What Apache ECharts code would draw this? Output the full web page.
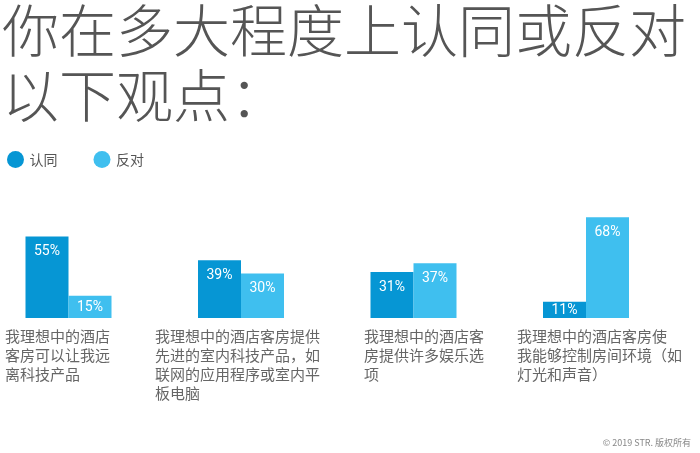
<!DOCTYPE html>
<html>
<head>
<meta charset="utf-8">
<script src="https://cdn.jsdelivr.net/npm/echarts@6/dist/echarts.min.js"></script>
<style>
  html, body { margin: 0; padding: 0; background: #fff; }
  #chart { width: 700px; height: 453px; }
</style>
</head>
<body>
<div id="chart"></div>
<script>
// categories (line breaks follow the original wrapping)
const categories = [
  '我理想中的酒店\n客房可以让我远\n离科技产品',
  '我理想中的酒店客房提供\n先进的室内科技产品，如\n联网的应用程序或室内平\n板电脑',
  '我理想中的酒店客\n房提供许多娱乐选\n项',
  '我理想中的酒店客房使\n我能够控制房间环境（如\n灯光和声音）'
];
const agree = [55, 39, 31, 11];
const disagree = [15, 30, 37, 68];

// width of the label box around each category centre (text is left-aligned in it)
const labelBoxWidth = [127, 172, 99, 138];

const chart = echarts.init(document.getElementById('chart'));

const rich = {};
labelBoxWidth.forEach((w, i) => {
  rich['c' + i] = {
    width: w,
    align: 'left',
    fontSize: 15,
    lineHeight: 19,
    color: '#666',
    fontFamily: 'Noto Sans CJK SC'
  };
});

const barLabel = {
  show: true,
  position: 'insideTop',
  color: '#fff',
  fontSize: 14,
  fontFamily: 'Liberation Sans Narrow, Roboto, sans-serif',
  formatter: '{c}%'
};

// keep the value label near the top, but inside short bars
const barLabelLayout = p => ({
  x: p.rect.x + p.rect.width / 2,
  y: p.rect.y + Math.min(15, p.rect.height / 2 + 1),
  align: 'center',
  verticalAlign: 'middle'
});

const option = {
  animation: false,
  title: [
    {
      text: '你在多大程度上认同或反对\n以下观点：',
      left: -3,
      top: -7,
      textStyle: {
        fontFamily: 'Noto Sans CJK SC',
        fontWeight: 300,
        fontSize: 57,
        lineHeight: 65,
        color: '#555'
      }
    },
    {
      text: '© 2019 STR. 版权所有',
      right: 4,
      bottom: 1,
      textStyle: {
        fontFamily: 'Noto Sans CJK SC',
        fontWeight: 'normal',
        fontSize: 9,
        color: '#888'
      }
    }
  ],
  legend: {
    left: 2,
    top: 146,
    icon: 'circle',
    itemWidth: 18,
    itemHeight: 17,
    itemGap: 36,
    textStyle: {
      fontFamily: 'Noto Sans CJK SC',
      fontSize: 14,
      color: '#555'
    },
    data: ['认同', '反对']
  },
  grid: {
    left: 68.5,
    width: 517.5,
    top: 170,
    height: 148
  },
  xAxis: {
    type: 'category',
    data: categories,
    boundaryGap: false,
    axisLine: { show: false },
    axisTick: { show: false },
    axisLabel: {
      interval: 0,
      margin: 9,
      formatter: (value, idx) =>
        value.split('\n').map(line => '{c' + idx + '|' + line + '}').join('\n'),
      rich: rich
    }
  },
  yAxis: {
    type: 'value',
    min: 0,
    max: 100,
    show: false,
    splitLine: { show: false }
  },
  series: [
    {
      name: '认同',
      type: 'bar',
      data: agree,
      barWidth: 43,
      barGap: '0%',
      itemStyle: { color: '#0696d4' },
      label: barLabel,
      labelLayout: barLabelLayout
    },
    {
      name: '反对',
      type: 'bar',
      data: disagree,
      barWidth: 43,
      itemStyle: { color: '#3fbfef' },
      label: barLabel,
      labelLayout: barLabelLayout
    }
  ]
};

chart.setOption(option);
</script>
</body>
</html>
